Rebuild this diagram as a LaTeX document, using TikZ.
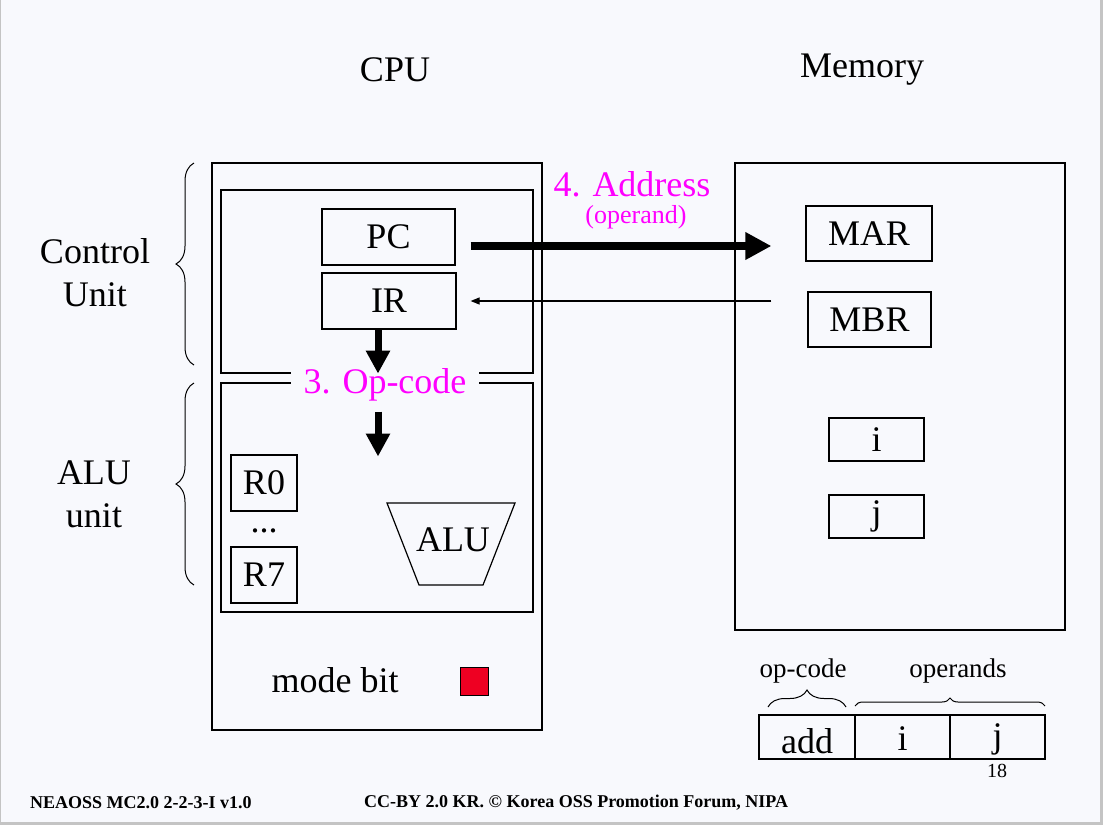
\documentclass[tikz,border=0pt]{standalone}
\usepackage{fontspec}
\setmainfont{Liberation Serif}
\usetikzlibrary{arrows.meta,calc,decorations.pathreplacing}
\definecolor{pagebg}{HTML}{F8F9FD}
\definecolor{hotpink}{HTML}{FF00FF}
\definecolor{modered}{HTML}{EE0022}
\definecolor{edgegray}{HTML}{C4C4C4}

\begin{document}
\begin{tikzpicture}[x=1pt,y=-1pt,
  big/.style={font=\rmfamily\fontsize{36}{43}\selectfont},
  mid/.style={font=\rmfamily\fontsize{27}{32}\selectfont},
  reg/.style={draw, line width=1.2pt, inner sep=0pt, big},
  frame/.style={draw, line width=1.2pt, inner sep=0pt},
  bigarrow/.style={line width=8pt, -{Triangle[width=26pt,length=26pt]}},
  downarrow/.style={line width=7pt, -{Triangle[width=23pt,length=23pt]}},
  thinarrow/.style={line width=1.2pt, -{Triangle[width=7pt,length=9pt]}},
  curly/.style={decorate, line width=1pt, decoration={brace, amplitude=#1, aspect=0.5}},
  foot/.style={font=\rmfamily\fontsize{18}{20}\selectfont\bfseries, anchor=west, inner sep=0pt}]

% page
\fill[pagebg] (0,0) rectangle (1103,825);
\useasboundingbox (0,0) rectangle (1103,825);
\fill[edgegray] (1100,0) rectangle (1103,825);
\fill[edgegray] (0,822) rectangle (1103,825);
\draw[edgegray, line width=1pt] (0.5,0) -- (0.5,825);

% titles
\node[big] (cputitle) at (395,70) {CPU};
\node[big] (memtitle) at (862,70) {Memory};

% CPU side
\node[frame, minimum width=330, minimum height=567] (cpu) at (377,446.5) {};
\node[frame, minimum width=312, minimum height=183] (ctl) at (377,281.5) {};
\node[frame, minimum width=312, minimum height=229] (alubox) at (377,497.5) {};

\node[reg, minimum width=133, minimum height=56] (PC) at (388.5,237) {PC};
\node[reg, minimum width=134, minimum height=56] (IR) at (389,301) {IR};

\node[reg, minimum width=66, minimum height=56] (R0) at (264,483) {R0};
\node[big, inner sep=0pt] (dots) at (264,531) {...};
\node[reg, minimum width=66, minimum height=56] (R7) at (264,575) {R7};

% ALU trapezoid
\draw[line width=1.2pt] (387,503) -- (515,503) -- (483,585) -- (419,585) -- cycle;
\node[big] (alu) at (453,540) {ALU};

% mode bit
\node[big] (mode) at (335,680) {mode bit};
\node[draw, line width=1pt, fill=modered, minimum size=28, inner sep=0pt] (modebit) at (474,681) {};

% op-code label breaking the two inner boxes
\node[big, fill=pagebg, inner xsep=13pt, inner ysep=2pt] (opcode) at (385,385) {\textcolor{hotpink}{3. Op-code}};

% Memory side
\node[frame, minimum width=330, minimum height=467] (mem) at (900,396.5) {};
\node[reg, minimum width=126, minimum height=55] (MAR) at (869,233.5) {MAR};
\node[reg, minimum width=123, minimum height=55] (MBR) at (869.5,319.5) {MBR};
\node[reg, minimum width=95, minimum height=43] (mi) at (876.5,439.5) {i};
\node[reg, minimum width=95, minimum height=43] (mj) at (876.5,516.5) {j};

% address transfer
\node[big, inner sep=0pt] (addr) at (632,184) {\textcolor{hotpink}{4. Address}};
\node[font=\rmfamily\fontsize{26}{30}\selectfont, inner sep=0pt] (operand) at (636,217) {\textcolor{hotpink}{(operand)}};

% connectors
\draw[bigarrow, shorten <=15pt] (PC.east |- 0,246) -- ([xshift=-34pt]MAR.west |- 0,246);
\draw[thinarrow, shorten <=36pt, shorten >=14pt] (MBR.west |- IR.east) -- (IR.east);
\draw[downarrow] ($(IR.south)+(-11,0)$) -- ($(IR.south)+(-11,44)$);
\draw[downarrow] ($(IR.south |- opcode.south)+(-11,8)$) -- ++(0,45);

% left braces and labels
\draw[curly=18pt] (194,365) -- (194,163);
\draw[curly=18pt] (194,585) -- (194,383);
\node[big, align=center] (cu) at (95,273) {Control\\Unit};
\node[big, align=center] (au) at (94,494) {ALU\\unit};

% instruction format
\node[frame, minimum width=96, minimum height=44, label={[big, yshift=-4pt]center:add}] (fadd) at (807,737) {};
\node[frame, minimum width=95, minimum height=44, label={[big, yshift=-2pt]center:i}] (fi) at (902.5,737) {};
\node[frame, minimum width=95, minimum height=44, label={[big, yshift=-2pt]center:j}] (fj) at (997.5,737) {};
\draw[curly=17pt] (768,707) -- (846,707);
\draw[curly=8pt] (855,706) -- (1045,706);
\node[mid] (lopcode) at (803,671) {op-code};
\node[mid] (loperands) at (958,671) {operands};
\node[font=\rmfamily\fontsize{20}{24}\selectfont] (pageno) at (997,771) {18};

% footer
\node[foot] (footl) at (30,803) {NEAOSS MC2.0 2-2-3-I v1.0};
\node[foot] (footr) at (364,803) {CC-BY 2.0 KR. © Korea OSS Promotion Forum, NIPA};

\end{tikzpicture}
\end{document}
